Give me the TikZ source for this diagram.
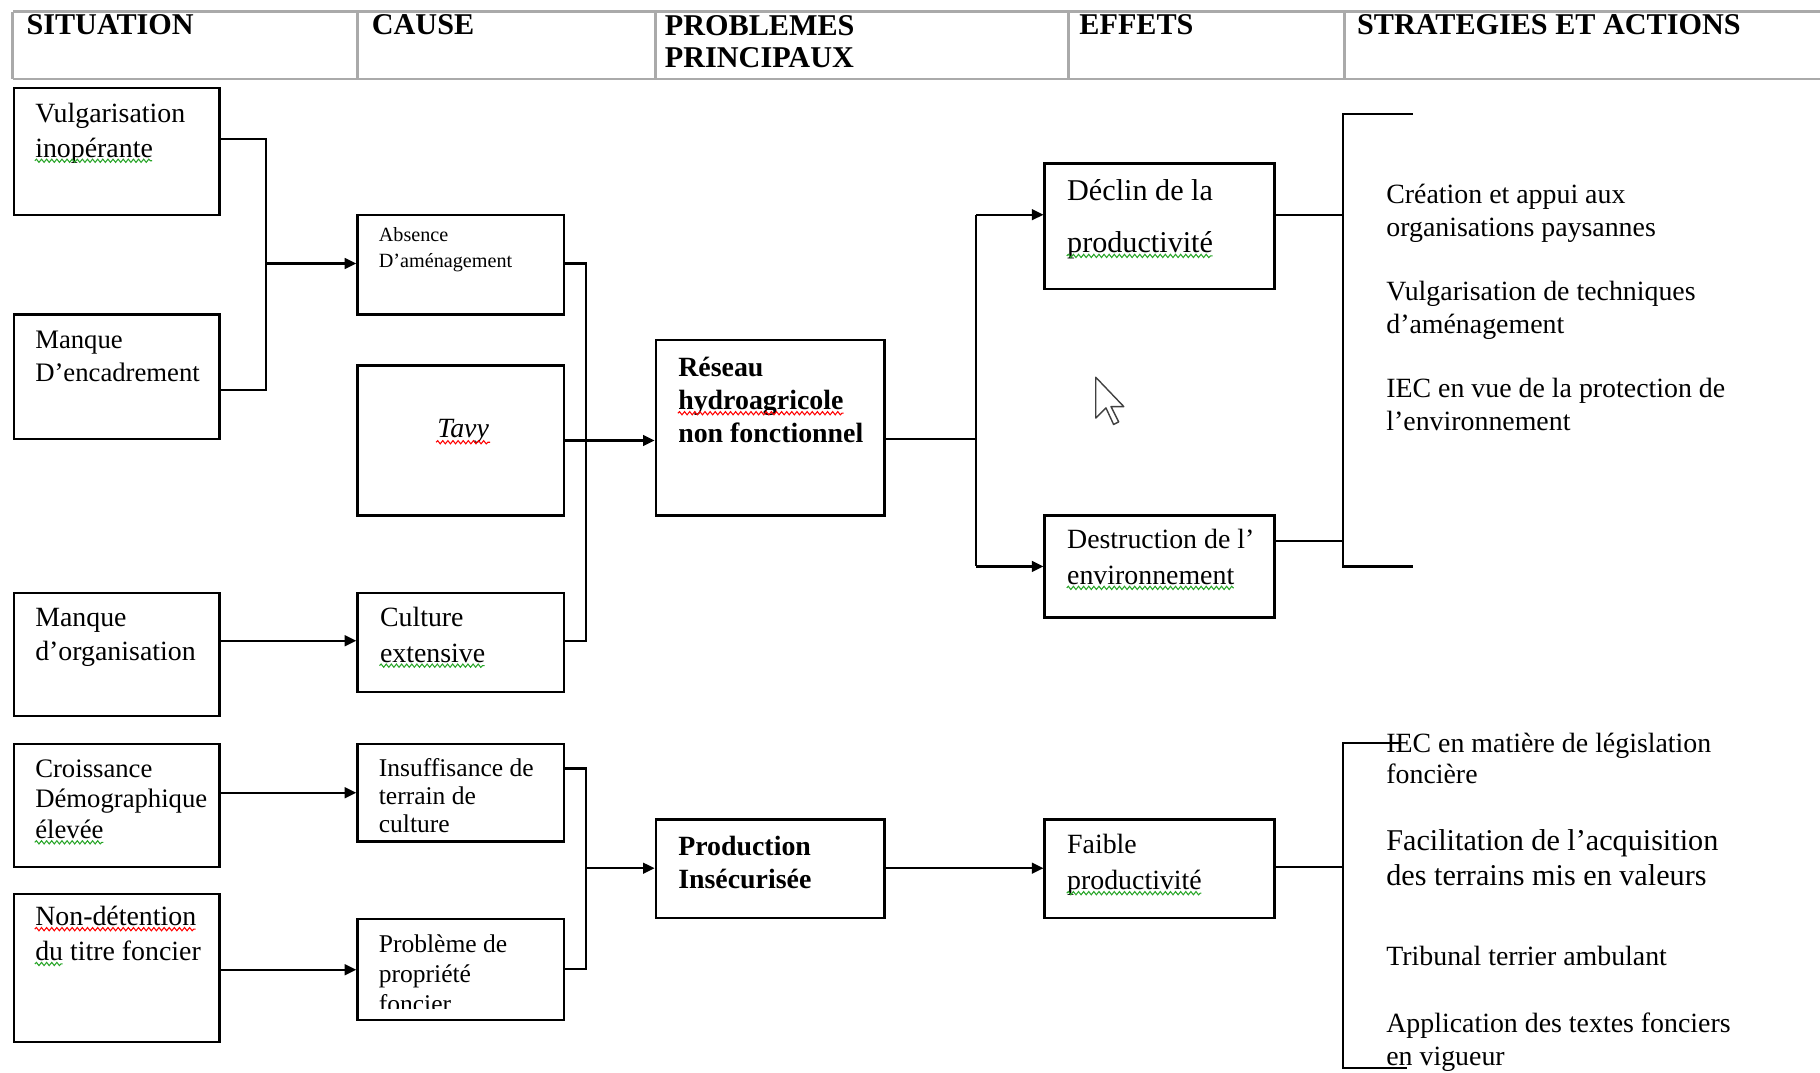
\documentclass[tikz,border=0pt]{standalone}
\usepackage{fontspec}
\setmainfont{Liberation Serif}
\usetikzlibrary{arrows.meta,fit,decorations.pathmorphing}
\definecolor{hgray}{RGB}{170,170,170}
\definecolor{spgreen}{RGB}{40,165,40}
\begin{document}
\begin{tikzpicture}[x=0.5pt,y=-0.5pt,
  box/.style={draw=black, line width=1pt, inner sep=0pt},
  conn/.style={draw=black, line width=1pt},
  arr/.style={conn, -{Triangle[length=5pt,width=4.6pt]}},
  hdr/.style={draw=hgray, line width=1.2pt},
  htxt/.style={anchor=base west, inner sep=0pt, font=\fontsize{13}{13.7}\selectfont\bfseries},
  txt/.style={anchor=north west, inner sep=0pt, align=left},
  wred/.style={draw=red, line width=0.45pt, decorate, decoration={snake, segment length=2.2pt, amplitude=0.7pt}},
  wgreen/.style={draw=spgreen, line width=0.45pt, decorate, decoration={snake, segment length=2.2pt, amplitude=0.7pt}},
]
\useasboundingbox (0,0) rectangle (1568,924);

% ---------------- header table ----------------
\draw[hdr] (11,10) -- (1568,10);
\draw[hdr] (11,68) -- (1568,68);
\foreach \xx in {11,308,565,920.5,1158} \draw[hdr] (\xx,10) -- (\xx,68);
\node[htxt] (hsit) at (22.5,30) {SITUATION};
\node[htxt] (hcau) at (320,30) {CAUSE};
\node[txt, font=\fontsize{13}{13.7}\selectfont\bfseries] (hpro) at (572.5,10.8) {\strut PROBLEMES\\PRINCIPAUX};
\node[htxt] (heff) at (929.6,30) {EFFETS};
\node[htxt] (hstr) at (1168.8,30) {STRATEGIES ET ACTIONS};

% ---------------- boxes ----------------
\node[box, fit={(12,76) (189,185)}] (vulg) {};
\node[box, fit={(12,271) (189,378)}] (encad) {};
\node[box, fit={(12,511) (189,617)}] (organ) {};
\node[box, fit={(12,641) (189,747)}] (crois) {};
\node[box, fit={(12,770) (189,898)}] (nondet) {};
\node[box, fit={(308,185) (486,271)}] (absence) {};
\node[box, fit={(308,315) (486,444)}] (tavy) {};
\node[box, fit={(308,511) (486,596)}] (culture) {};
\node[box, fit={(308,641) (486,725)}] (insuf) {};
\node[box, fit={(308,792) (486,879)}] (probl) {};
\node[box, fit={(565,293) (762,444)}] (reseau) {};
\node[box, fit={(565,706) (762,791)}] (prod) {};
\node[box, fit={(900,141) (1098,249)}] (declin) {};
\node[box, fit={(900,444) (1098,532)}] (destr) {};
\node[box, fit={(900,706) (1098,791)}] (faible) {};

% ---------------- box texts ----------------
\node[txt, font=\fontsize{12}{15}\selectfont] (tvulg) at (30,84) {\strut Vulgarisation\\inopérante};
\node[txt, font=\fontsize{11.5}{14.5}\selectfont] (tencad) at (30,279.2) {\strut Manque\\D’encadrement};
\node[txt, font=\fontsize{12}{14.8}\selectfont] (torgan) at (30,518.3) {\strut Manque\\d’organisation};
\node[txt, font=\fontsize{11.5}{13.3}\selectfont] (tcrois) at (30,650.4) {\strut Croissance\\Démographique\\élevée};
\node[txt, font=\fontsize{12}{15}\selectfont] (tnondet) at (30,776) {\strut Non-détention\\du titre foncier};
\node[txt, font=\fontsize{8.7}{10.85}\selectfont] (tabs) at (326,192.8) {\strut Absence\\D’aménagement};
\node[anchor=base, inner sep=0pt, font=\fontsize{12}{14}\selectfont\itshape] (ttavy) at (399,377) {Tavy};
\node[txt, font=\fontsize{12}{15.5}\selectfont] (tcult) at (327,517.3) {\strut Culture\\extensive};
\node[txt, font=\fontsize{11}{12}\selectfont] (tinsuf) at (326,651.8) {\strut Insuffisance de\\terrain de\\culture};
\begin{scope}
\clip (309,793) rectangle (485,869);
\node[txt, font=\fontsize{11}{12.9}\selectfont] (tprobl) at (326,801.9) {\strut Problème de\\propriété\\foncier};
\end{scope}
\node[txt, font=\fontsize{12}{14.15}\selectfont\bfseries] (treseau) at (584,304.2) {\strut Réseau\\hydroagricole\\non fonctionnel};
\node[txt, font=\fontsize{12}{14.35}\selectfont\bfseries] (tprod) at (584,716.5) {\strut Production\\Insécurisée};
\node[txt, font=\fontsize{13}{22.25}\selectfont] (tdeclin) at (919,141.1) {\strut Déclin de la\\productivité};
\node[txt, font=\fontsize{12}{15.5}\selectfont] (tdestr) at (919,450.3) {\strut Destruction de l’\\environnement};
\node[txt, font=\fontsize{12}{15.5}\selectfont] (tfaible) at (919,713.3) {\strut Faible\\productivité};

% ---------------- strategies ----------------
\node[txt, font=\fontsize{12}{14}\selectfont] (s1) at (1194,155.6) {\strut Création et appui aux\\organisations paysannes};
\node[txt, font=\fontsize{12}{14}\selectfont] (s2) at (1194,238.9) {\strut Vulgarisation de techniques\\d’aménagement};
\node[txt, font=\fontsize{12}{14.4}\selectfont] (s3) at (1194,321.5) {\strut IEC en vue de la protection de\\l’environnement};
\node[txt, font=\fontsize{12}{13.65}\selectfont] (s4) at (1194,628.5) {\strut IEC en matière de législation\\foncière};
\node[txt, font=\fontsize{13}{15.1}\selectfont] (s5) at (1194,711.2) {\strut Facilitation de l’acquisition\\des terrains mis en valeurs};
\node[anchor=base west, inner sep=0pt, font=\fontsize{12}{14}\selectfont] (s6) at (1194,831.4) {Tribunal terrier ambulant};
\node[txt, font=\fontsize{12}{14.35}\selectfont] (s7) at (1194,868.7) {\strut Application des textes fonciers\\en vigueur};

% ---------------- connectors ----------------
\coordinate (j1) at (229,120);
\coordinate (j2) at (229,336);
\coordinate (j3) at (229,227);
\draw[conn] (vulg.east |- j1) -- (j1) -- (j2) -- (encad.east |- j2);
\draw[arr] (j3) -- (absence.west |- j3);

\coordinate (k1) at (505,227);
\coordinate (k2) at (505,552);
\draw[conn] (absence.east |- k1) -- (k1) -- (k2) -- (culture.east |- k2);
\draw[arr] (tavy.east) -- (reseau.west |- tavy.east);
\draw[arr] (organ.east |- k2) -- (culture.west |- k2);
\draw[arr] (crois.east |- insuf.east) -- (insuf.west);
\draw[arr] (nondet.east |- probl.east) -- (probl.west);

\coordinate (m1) at (505,662);
\coordinate (m2) at (505,835);
\coordinate (m3) at (505,748);
\draw[conn] (insuf.east |- m1) -- (m1) -- (m2) -- (probl.east |- m2);
\draw[arr] (m3) -- (prod.west |- m3);

\coordinate (n1) at (841,185);
\coordinate (n2) at (841,488);
\coordinate (n3) at (841,378);
\draw[conn] (reseau.east |- n3) -- (n3);
\draw[conn] (n1) -- (n2);
\draw[arr] (n1) -- (declin.west |- n1);
\draw[arr] (n2) -- (destr.west |- n2);
\draw[arr] (prod.east |- m3) -- (faible.west |- m3);

\coordinate (b1) at (1157,98);
\coordinate (b2) at (1157,488);
\coordinate (b3) at (1157,185);
\coordinate (b4) at (1157,466);
\coordinate (e1) at (1217,98);
\coordinate (e2) at (1217,488);
\draw[conn] (e1) -- (b1) -- (b2) -- (e2);
\draw[conn] (declin.east |- b3) -- (b3);
\draw[conn] (destr.east |- b4) -- (b4);

\coordinate (c1) at (1157,640);
\coordinate (c2) at (1157,920.4);
\coordinate (c3) at (1157,747);
\coordinate (f1) at (1205,640);
\coordinate (f2) at (1212,920.4);
\draw[conn] (f1) -- (c1) -- (c2) -- (f2);
\draw[conn] (faible.east |- c3) -- (c3);

% ---------------- spelling squiggles ----------------
\draw[wgreen] (30,138.5) -- (131,138.5);
\draw[wred] (375.7,381) -- (422.3,381);
\draw[wred] (584,356) -- (726.7,356);
\draw[wgreen] (919,220.5) -- (1044.7,220.5);
\draw[wgreen] (919,506.5) -- (1063,506.5);
\draw[wgreen] (327,573.5) -- (417.6,573.5);
\draw[wgreen] (30,725.7) -- (89,725.7);
\draw[wred] (30,800.5) -- (168.6,800.5);
\draw[wgreen] (30,830.5) -- (54,830.5);
\draw[wgreen] (919,769.5) -- (1035,769.5);

% ---------------- mouse cursor ----------------
\draw[fill=white, draw=black!75, line width=0.6pt, line join=round]
  (944,325) -- ++(0,35.2) -- ++(8.8,-8.8) -- ++(6.6,14.3) -- ++(4.4,-2.2)
  -- ++(-6.6,-13.2) -- ++(11,0) -- cycle;
\end{tikzpicture}
\end{document}
